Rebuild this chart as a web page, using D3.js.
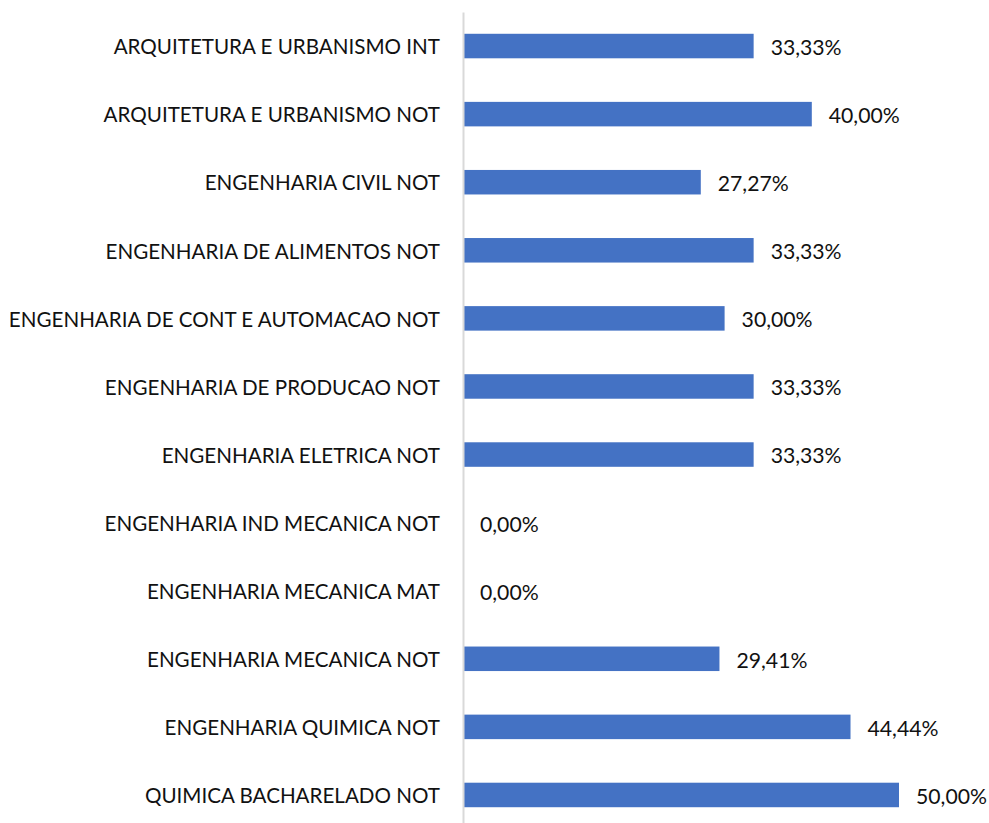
<!DOCTYPE html>
<html>
<head>
<meta charset="utf-8">
<script src="https://cdn.jsdelivr.net/npm/d3@7"></script>
<style>
  html, body { margin: 0; padding: 0; background: #fff; }
  svg text { font-family: Lato, "Open Sans", sans-serif; fill: #111; }
</style>
</head>
<body>
<div id="chart"></div>
<script>
const w = 989;
const h = 823;

// categories, top to bottom
const courses = [
    "ARQUITETURA E URBANISMO INT",
    "ARQUITETURA E URBANISMO NOT",
    "ENGENHARIA CIVIL NOT",
    "ENGENHARIA DE ALIMENTOS NOT",
    "ENGENHARIA DE CONT E AUTOMACAO NOT",
    "ENGENHARIA DE PRODUCAO NOT",
    "ENGENHARIA ELETRICA NOT",
    "ENGENHARIA IND MECANICA NOT",
    "ENGENHARIA MECANICA MAT",
    "ENGENHARIA MECANICA NOT",
    "ENGENHARIA QUIMICA NOT",
    "QUIMICA BACHARELADO NOT"
];

// percentages
const rates = [33.33, 40.00, 27.27, 33.33, 30.00, 33.33, 33.33, 0.00, 0.00, 29.41, 44.44, 50.00];

const data = courses.map((c, i) => ({ course: c, rate: rates[i] }));

const svg = d3.select("#chart")
    .append("svg")
    .attr("width", w)
    .attr("height", h);

const xScale = d3.scaleLinear()
    .domain([0, 50])
    .range([463, 899]);

const yScale = d3.scaleBand()
    .domain(courses)
    .range([12, 829])
    .paddingInner(0.64)
    .paddingOuter(0.32);

const fmt = v => d3.format(".2f")(v).replace(".", ",") + "%";

// bars
svg.selectAll("rect.bar")
    .data(data)
    .enter()
    .append("rect")
    .attr("class", "bar")
    .attr("x", xScale(0))
    .attr("y", d => yScale(d.course))
    .attr("width", d => xScale(d.rate) - xScale(0))
    .attr("height", yScale.bandwidth())
    .attr("fill", "#4472c4");

// category axis (just the line + labels, Excel style)
const yAxis = d3.axisLeft(yScale).tickSize(0).tickPadding(23);

svg.append("g")
    .attr("class", "y axis")
    .attr("transform", `translate(${xScale(0)}, 0)`)
    .call(yAxis)
    .call(g => g.select(".domain")
        .attr("stroke", "#d9d9d9")
        .attr("stroke-width", 2))
    .call(g => g.selectAll("text")
        .attr("font-size", 20.6)
        .attr("dy", "0.4em")
        .attr("fill", "#111"));

// value labels
svg.selectAll("text.value")
    .data(data)
    .enter()
    .append("text")
    .attr("class", "value")
    .attr("x", d => xScale(d.rate) + 17)
    .attr("y", d => yScale(d.course) + yScale.bandwidth() / 2)
    .attr("dy", "0.42em")
    .attr("font-size", 21.2)
    .text(d => fmt(d.rate));
</script>
</body>
</html>
